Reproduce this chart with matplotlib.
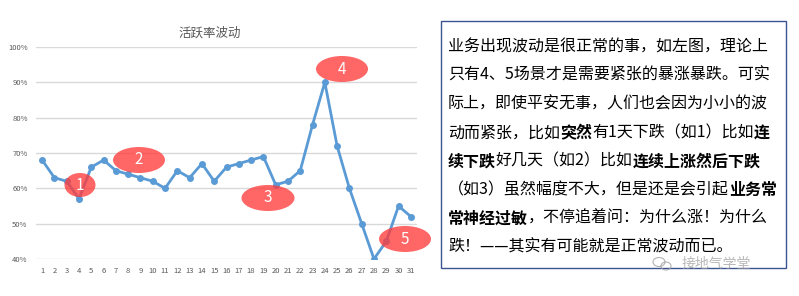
import numpy as np
import matplotlib
matplotlib.use('Agg')
import matplotlib.pyplot as plt
from matplotlib.patches import Ellipse, Rectangle

plt.rcParams['font.family'] = ['Noto Sans CJK SC', 'DejaVu Sans']

# 数据
days = list(range(1, 32))
rate = [68, 63, 62, 57, 66, 68, 65, 64, 63, 62, 60, 65, 63, 67, 62, 66,
        67, 68, 69, 61, 62, 65, 78, 90, 72, 60, 50, 40, 45, 55, 52]
yticks = [40, 50, 60, 70, 80, 90, 100]
title = '活跃率波动'

# 标注圈 (编号, 中心x, 中心y, 宽, 高) 像素
marks = [('1', 80, 185, 31, 24), ('2', 139, 160, 52, 26), ('3', 268, 198, 53, 26),
         ('4', 342, 69, 52, 26), ('5', 405, 239, 52, 26)]

# 右侧文字, 每行若干段 (文字, 是否加粗)
lines = [
    [('业务出现波动是很正常的事，如左图，理论上', False)],
    [('只有4、5场景才是需要紧张的暴涨暴跌。可实', False)],
    [('际上，即使平安无事，人们也会因为小小的波', False)],
    [('动而紧张，比如', False), ('突然', True), ('有1天下跌（如1）比如', False), ('连', True)],
    [('续下跌', True), ('好几天（如2）比如', False), ('连续上涨然后下跌', True)],
    [('（如3）虽然幅度不大，但是还是会引起', False), ('业务常', True)],
    [('常神经过敏', True), ('，不停追着问：为什么涨！为什么', False)],
    [('跌！——其实有可能就是正常波动而已。', False)],
]

W, H = 799, 296
fig = plt.figure(figsize=(W / 100, H / 100), dpi=100)


def fx(px):
    return px / W


def fy(py):
    return 1 - py / H


ax = fig.add_axes([fx(36), fy(259), fx(417) - fx(36), fy(47) - fy(259)])
ax.plot(days, rate, color='#5B9BD5', lw=2, marker='o', ms=4, zorder=3)
ax.set_xlim(0.5, 31.5)
ax.set_ylim(40, 100)
ax.set_yticks(yticks)
ax.set_yticklabels(['%d%%' % v for v in yticks])
ax.set_xticks(days)
ax.tick_params(length=0, labelsize=5.5, labelcolor='#595959', pad=6)
ax.grid(axis='y', color='#D9D9D9', lw=1)
ax.set_axisbelow(True)
for s in ax.spines.values():
    s.set_visible(False)
fig.text(fx(210), fy(33), title, ha='center', va='center', fontsize=9, color='#595959')

for lab, cx, cy, w, h in marks:
    e = Ellipse((fx(cx), fy(cy)), fx(w), h / H, transform=fig.transFigure,
                facecolor='#FF3B3B', alpha=0.78, edgecolor='none', zorder=5)
    fig.patches.append(e)
    fig.text(fx(cx), fy(cy), lab, ha='center', va='center', fontsize=11,
             color='white', fontweight='light', zorder=6)

# 文本框
box = Rectangle((fx(441), fy(268)), fx(786) - fx(441), fy(21) - fy(268),
                transform=fig.transFigure, facecolor='white', edgecolor='#3B5590', lw=1)
fig.patches.append(box)

r = fig.canvas.get_renderer()
y0 = 47
for i, segs in enumerate(lines):
    x = 448
    y = y0 + i * 28.6
    for txt, bold in segs:
        t = fig.text(fx(x), fy(y), txt, ha='left', va='center', fontsize=11.5,
                     color='black', fontweight='bold' if bold else 'normal')
        x += t.get_window_extent(r).width

# 水印
for cx, cy, w, h in [(659, 262, 12, 9), (666, 266, 10, 8)]:
    fig.patches.append(Ellipse((fx(cx), fy(cy)), fx(w), h / H, transform=fig.transFigure,
                               facecolor='none', edgecolor='#A0A0A0', lw=0.8, alpha=0.8, zorder=7))
fig.text(fx(716), fy(264), '接地气学堂', ha='center', va='center', fontsize=10,
         color='#9A9A9A', alpha=0.7, zorder=7)

fig.savefig('out.png', dpi=100)
